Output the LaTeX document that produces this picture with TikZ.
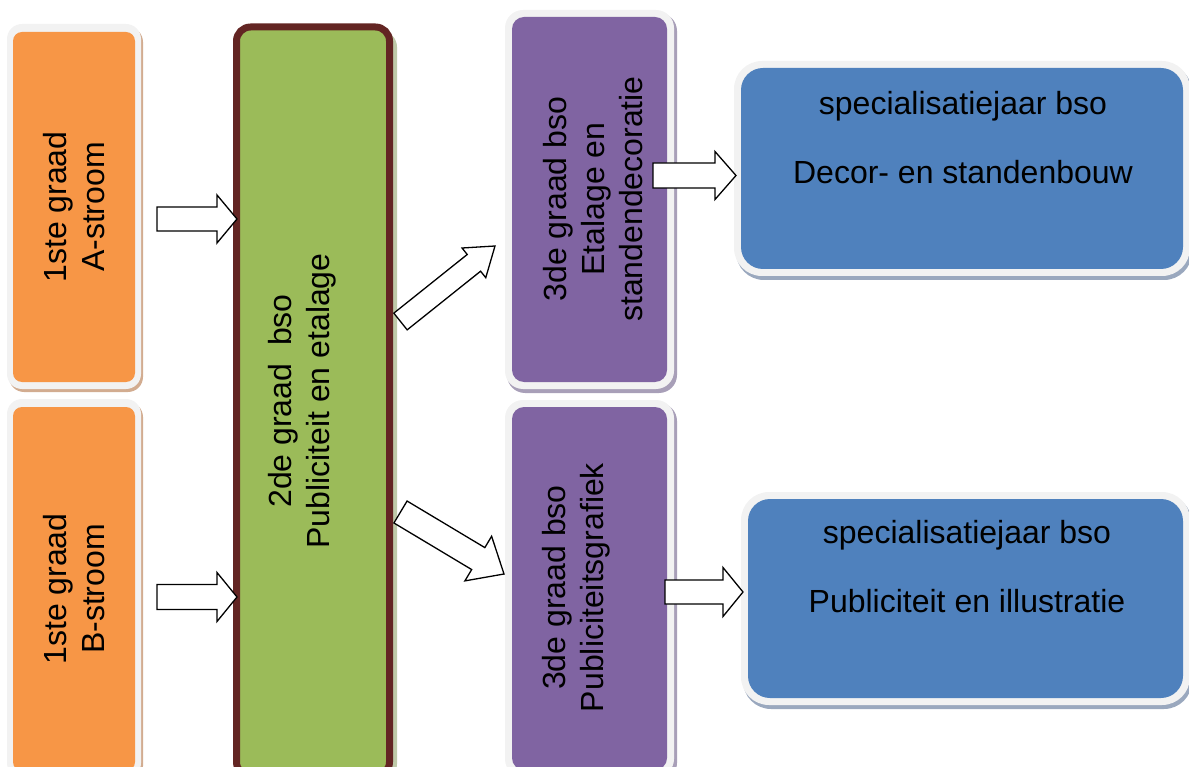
\documentclass[tikz,border=0pt]{standalone}
\usepackage{fontspec}
\setmainfont{Liberation Sans}
\usetikzlibrary{calc}
\definecolor{orangeF}{HTML}{F79646}
\definecolor{greenF}{HTML}{9BBB59}
\definecolor{purpleF}{HTML}{8064A2}
\definecolor{blueF}{HTML}{4F81BD}
\definecolor{brownB}{HTML}{632523}
\definecolor{frameC}{HTML}{F2F2F2}
\definecolor{oshadow}{HTML}{D2AC90}
\definecolor{pshadow}{HTML}{A89FB8}
\definecolor{bshadow}{HTML}{9AA8BE}
\definecolor{gshadow}{HTML}{BFCAA9}
\newcommand\myblockarrow[5]{%
  \coordinate (bah) at ($(#2)!#5!(#1)$);
  \draw[barrow] ($(#1)!#3!90:(#2)$) -- ($(bah)!#3!90:(#2)$) -- ($(bah)!#4!90:(#2)$) -- (#2)
    -- ($(bah)!#4!-90:(#2)$) -- ($(bah)!#3!-90:(#2)$) -- ($(#1)!#3!-90:(#2)$) -- cycle;}
\begin{document}
\begin{tikzpicture}[x=1pt,y=-1pt,
  txt/.style={font=\fontsize{32}{38}\selectfont, align=center, inner sep=0pt, text=black},
  vtxt/.style={txt, rotate=90},
  inbox/.style={inner sep=0pt, outer sep=0pt, draw=none},
  barrow/.style={draw=black, fill=white, line width=1.3pt, line join=miter}]
\useasboundingbox (0,0) rectangle (1189,767);

% orange A
\fill[oshadow, rounded corners=15pt] (9,27) rectangle (143,392);
\fill[frameC, rounded corners=15pt] (7,24) rectangle (141,389);
\node[inbox, fill=orangeF, rounded corners=9pt, minimum width=122pt, minimum height=350pt] (oa) at (74,207) {};
% orange B
\fill[oshadow, rounded corners=15pt] (9,402) rectangle (143,781);
\fill[frameC, rounded corners=15pt] (7,399) rectangle (141,778);
\node[inbox, fill=orangeF, rounded corners=9pt, minimum width=122pt, minimum height=364pt] (ob) at (74,589) {};
% green
\fill[gshadow, rounded corners=16pt] (236,31) rectangle (397,780);
\node[draw=brownB, line width=7pt, fill=greenF, rounded corners=14pt, inner sep=0pt, minimum width=153pt, minimum height=749pt] (gr) at (313,401.5) {};
% purple 1
\fill[pshadow, rounded corners=18pt] (507,13) rectangle (677,393);
\fill[frameC, rounded corners=18pt] (505,10) rectangle (674,389);
\node[inbox, fill=purpleF, rounded corners=12pt, minimum width=155pt, minimum height=365pt] (pa) at (589.5,199.5) {};
% purple 2
\fill[pshadow, rounded corners=18pt] (507,403) rectangle (677,781);
\fill[frameC, rounded corners=18pt] (505,400) rectangle (674,777);
\node[inbox, fill=purpleF, rounded corners=12pt, minimum width=155pt, minimum height=363pt] (pb) at (589.5,588.5) {};
% blue 1
\fill[bshadow, rounded corners=28pt] (736,64) rectangle (1192,280);
\fill[frameC, rounded corners=28pt] (734,61) rectangle (1190,276);
\node[inbox, fill=blueF, rounded corners=22pt, minimum width=442pt, minimum height=201pt] (ba) at (962,168.5) {};
% blue 2
\fill[bshadow, rounded corners=28pt] (743,495) rectangle (1192,709);
\fill[frameC, rounded corners=28pt] (741,492) rectangle (1190,705);
\node[inbox, fill=blueF, rounded corners=22pt, minimum width=435pt, minimum height=199pt] (bb) at (965.5,598.5) {};

% texts
\node[vtxt] (oat) at (74,207) {1ste graad\\A-stroom};
\node[vtxt] (obt) at (74,589) {1ste graad\\B-stroom};
\node[vtxt] (grt) at (302,401) {2de graad\ \ bso\\Publiciteit en etalage};
\node[vtxt] (pat) at (593,199) {3de graad bso\\Etalage en\\standendecoratie};
\node[vtxt] (pbt) at (576.5,587.5) {3de graad bso\\Publiciteitsgrafiek};
\node[txt, anchor=base] (bat1) at (963,115) {specialisatiejaar bso};
\node[txt, anchor=base] (bat2) at (963,184) {Decor- en standenbouw};
\node[txt, anchor=base] (bbt1) at (967,543) {specialisatiejaar bso};
\node[txt, anchor=base] (bbt2) at (967,612) {Publiciteit en illustratie};

% arrows
\coordinate (a1s) at (157,219);   \coordinate (a1e) at (237,219);
\coordinate (a2s) at (157,597);   \coordinate (a2e) at (237,597);
\coordinate (a3s) at (400.5,321.5); \coordinate (a3e) at (495,246);
\coordinate (a4s) at (400.5,512); \coordinate (a4e) at (504,574);
\coordinate (a5s) at (653,175.5); \coordinate (a5e) at (736,175.5);
\coordinate (a6s) at (665,592);   \coordinate (a6e) at (743,592);
\myblockarrow{a1s}{a1e}{12pt}{24pt}{20pt}
\myblockarrow{a2s}{a2e}{12.5pt}{24.5pt}{20pt}
\myblockarrow{a3s}{a3e}{10.7pt}{19pt}{27pt}
\myblockarrow{a4s}{a4e}{12.8pt}{26pt}{30pt}
\myblockarrow{a5s}{a5e}{12.5pt}{24pt}{21pt}
\myblockarrow{a6s}{a6e}{12pt}{24.5pt}{20pt}
\end{tikzpicture}
\end{document}
